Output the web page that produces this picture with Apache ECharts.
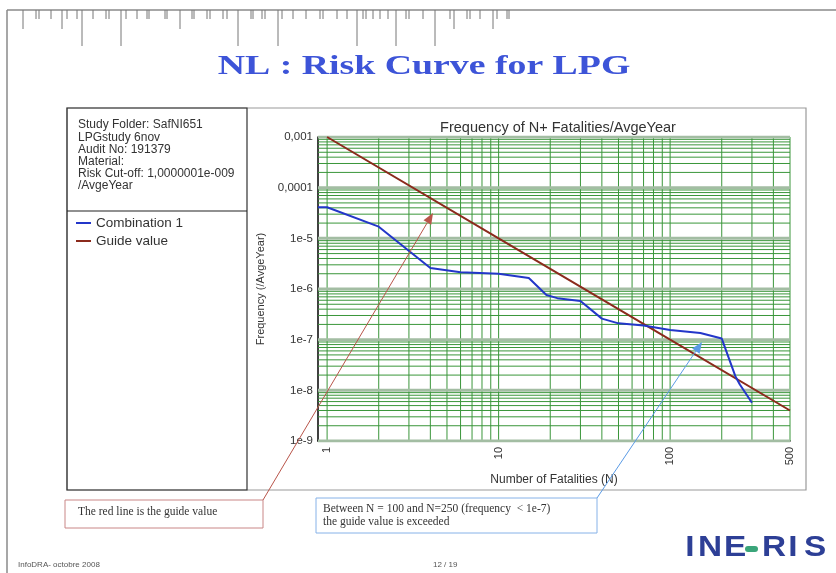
<!DOCTYPE html>
<html>
<head>
<meta charset="utf-8">
<title>NL : Risk Curve for LPG</title>
<script src="https://cdn.jsdelivr.net/npm/echarts@6/dist/echarts.min.js"></script>
<style>
html, body { margin: 0; padding: 0; background: #fff; }
#main { width: 836px; height: 573px; }
</style>
</head>
<body>
<div id="main"></div>
<script>
// values
var comboN = [0.885, 1, 2, 4, 6, 10, 15, 19, 22, 30, 40, 50, 70, 100, 150, 200, 240, 255, 300];
var comboF = [4.1e-5, 4.1e-5, 1.7e-5, 2.6e-6, 2.15e-6, 2.0e-6, 1.65e-6, 7.6e-7, 6.6e-7, 5.8e-7, 2.6e-7, 2.1e-7, 1.9e-7, 1.55e-7, 1.35e-7, 1.05e-7, 1.9e-8, 1.3e-8, 5.7e-9];
var guideN = [1, 10, 100, 500];
var guideF = [1e-3, 1e-5, 1e-7, 4e-9];

var xMin = 0.885, xMax = 500, yMin = 1e-9, yMax = 1e-3;
var xLabelValues = [1, 10, 100, 500];
var xLabelTexts = ['1', '10', '100', '500'];
var yLabelValues = [1e-3, 1e-4, 1e-5, 1e-6, 1e-7, 1e-8, 1e-9];
var yLabelTexts = ['0,001', '0,0001', '1e-5', '1e-6', '1e-7', '1e-8', '1e-9'];

var xGridValues = [1, 2, 3, 4, 5, 6, 7, 8, 9, 10, 20, 30, 40, 50, 60, 70, 80, 90, 100, 200, 300, 400, 500];
var yGridValues = [];
for (var e = -9; e <= -4; e++) {
    for (var m = 1; m <= 9; m++) yGridValues.push(m * Math.pow(10, e));
}
yGridValues.push(1e-3);

function zip(a, b) {
    return a.map(function (v, i) { return [v, b[i]]; });
}

function pickLabel(values, texts, v) {
    for (var i = 0; i < values.length; i++) {
        if (Math.abs(Math.log10(v) - Math.log10(values[i])) < 1e-4) return texts[i];
    }
    return '';
}

function isDecade(v) {
    var l = Math.log10(v);
    return Math.abs(l - Math.round(l)) < 1e-6;
}

// grid lines as broken line series (markLine misbehaves on log axes)
var gridMinor = [], gridMajor = [];
xGridValues.forEach(function (x) {
    gridMinor.push([x, yMin], [x, yMax], [x, '-']);
});
yGridValues.forEach(function (v) {
    var target = isDecade(v) ? gridMajor : gridMinor;
    target.push([xMin, v], [xMax, v], [xMax, '-']);
});

function arrow(x1, y1, x2, y2, color) {
    var dx = x2 - x1, dy = y2 - y1;
    var len = Math.sqrt(dx * dx + dy * dy);
    var ux = dx / len, uy = dy / len;
    var bx = x2 - ux * 11, by = y2 - uy * 11;
    return [
        { type: 'line', z: 50, shape: { x1: x1, y1: y1, x2: bx, y2: by }, style: { stroke: color, lineWidth: 1 } },
        { type: 'polygon', z: 50, shape: { points: [[x2, y2], [bx - uy * 4.5, by + ux * 4.5], [bx + uy * 4.5, by - ux * 4.5]] }, style: { fill: color } }
    ];
}

// top ruler
var rulerLong = [82, 121, 238, 278, 357, 396, 435];
var rulerMid = [23, 62, 180, 454, 493];
var rulerShort = [36, 39, 51, 67, 77, 93, 106, 109, 126, 137, 147, 149, 165, 167, 192, 194, 207, 210, 223, 227,
    251, 253, 262, 265, 282, 293, 306, 320, 323, 337, 347, 363, 366, 373, 380, 388, 406, 409, 423, 450, 467, 470,
    480, 497, 507, 509];
var graphics = [
    { type: 'line', shape: { x1: 7, y1: 10, x2: 836, y2: 10 }, style: { stroke: '#8a8a8a', lineWidth: 1.5 } },
    { type: 'line', shape: { x1: 7, y1: 10, x2: 7, y2: 573 }, style: { stroke: '#8a8a8a', lineWidth: 1.5 } }
];
rulerLong.forEach(function (x) {
    graphics.push({ type: 'line', shape: { x1: x, y1: 10, x2: x, y2: 46 }, style: { stroke: '#777', lineWidth: 1 } });
});
rulerMid.forEach(function (x) {
    graphics.push({ type: 'line', shape: { x1: x, y1: 10, x2: x, y2: 29 }, style: { stroke: '#777', lineWidth: 1 } });
});
rulerShort.forEach(function (x) {
    graphics.push({ type: 'line', shape: { x1: x, y1: 10, x2: x, y2: 19 }, style: { stroke: '#777', lineWidth: 1 } });
});

// slide title (the slide is stretched sideways)
graphics.push({
    type: 'text', x: 424, y: 67, scaleX: 1.4,
    style: {
        text: 'NL : Risk Curve for LPG', align: 'center', verticalAlign: 'middle',
        font: 'bold 27px "Liberation Serif", "Times New Roman", serif', fill: '#3d54d8'
    }
});

// chart frame and info panel
graphics.push(
    { type: 'rect', z: -10, shape: { x: 67, y: 108, width: 739, height: 382 }, style: { fill: '#fff', stroke: '#9a9a9a', lineWidth: 1.2 } },
    { type: 'rect', z: -9, shape: { x: 67, y: 108, width: 180, height: 382 }, style: { fill: 'none', stroke: '#333', lineWidth: 1.2 } },
    { type: 'line', shape: { x1: 67, y1: 211, x2: 247, y2: 211 }, style: { stroke: '#222', lineWidth: 1.2 } },
    {
        type: 'text', left: 78, top: 119,
        style: {
            text: 'Study Folder: SafNI651\nLPGstudy 6nov\nAudit No: 191379\nMaterial:\nRisk Cut-off: 1,0000001e-009\n/AvgeYear',
            font: '12px "Liberation Sans", Arial, sans-serif', lineHeight: 12.2, fill: '#333'
        }
    }
);

// annotation boxes
graphics.push(
    { type: 'rect', z: 40, shape: { x: 65, y: 500, width: 198, height: 28 }, style: { fill: '#fff', stroke: '#c98686', lineWidth: 1 } },
    { type: 'text', z: 41, left: 78, top: 506, style: { text: 'The red line is the guide value', font: '11.5px "Liberation Serif", "Times New Roman", serif', fill: '#333' } },
    { type: 'rect', z: 40, shape: { x: 316, y: 498, width: 281, height: 35 }, style: { fill: '#fff', stroke: '#86b2e8', lineWidth: 1 } },
    {
        type: 'text', z: 41, left: 323, top: 503,
        style: { text: 'Between N = 100 and N=250 (frequency  < 1e-7)\nthe guide value is exceeded', font: '11.5px "Liberation Serif", "Times New Roman", serif', lineHeight: 12.5, fill: '#333' }
    }
);
graphics = graphics.concat(arrow(263, 500, 433, 213, '#b9554a'));
graphics = graphics.concat(arrow(597, 498, 702, 342, '#5a9be6'));

// footer
graphics.push(
    { type: 'text', left: 18, top: 561, style: { text: 'InfoDRA- octobre 2008', font: '8px "Liberation Sans", Arial, sans-serif', fill: '#555' } },
    { type: 'text', left: 433, top: 561, style: { text: '12 / 19', font: '8px "Liberation Sans", Arial, sans-serif', fill: '#555' } }
);
var logoLetters = [['I', 690], ['N', 710], ['E', 735], ['R', 774], ['I', 793], ['S', 815]];
logoLetters.forEach(function (l) {
    graphics.push({
        type: 'text', x: l[1], y: 548, scaleX: 1.15,
        style: { text: l[0], font: 'bold 29px "Liberation Sans", Arial, sans-serif', fill: '#2d3f96', align: 'center', verticalAlign: 'middle' }
    });
});
graphics.push({ type: 'rect', shape: { x: 745, y: 546, width: 13, height: 6, r: 3 }, style: { fill: '#3aa57a' } });

var chart = echarts.init(document.getElementById('main'));
var option = {
    animation: false,
    backgroundColor: '#fff',
    title: {
        text: 'Frequency of N+ Fatalities/AvgeYear', left: 553, top: 115, textAlign: 'center',
        textStyle: { fontFamily: '"Liberation Sans", Arial, sans-serif', fontWeight: 'normal', fontSize: 14.5, color: '#333' }
    },
    legend: {
        orient: 'vertical', left: 76, top: 216, itemGap: 4, padding: 0,
        icon: 'rect', itemWidth: 15, itemHeight: 2,
        data: ['Combination 1', 'Guide value'],
        textStyle: { fontFamily: '"Liberation Sans", Arial, sans-serif', fontSize: 13.5, lineHeight: 14, color: '#333' }
    },
    grid: { left: 318, top: 137, width: 472, height: 304, containLabel: false },
    xAxis: {
        type: 'log', min: xMin, max: xMax,
        name: 'Number of Fatalities (N)', nameLocation: 'middle', nameGap: 30,
        nameTextStyle: { fontFamily: '"Liberation Sans", Arial, sans-serif', fontSize: 12, color: '#333' },
        axisLine: { show: true, lineStyle: { color: '#000', width: 1.5 } },
        axisTick: { show: false },
        splitLine: { show: false },
        axisLabel: {
            rotate: 90, margin: 6, showMinLabel: true, showMaxLabel: true,
            fontFamily: '"Liberation Sans", Arial, sans-serif', fontSize: 11, color: '#333',
            formatter: function (v) { return pickLabel(xLabelValues, xLabelTexts, v); }
        }
    },
    yAxis: {
        type: 'log', min: yMin, max: yMax,
        name: 'Frequency (/AvgeYear)', nameLocation: 'middle', nameGap: 50, nameRotate: 90,
        nameTextStyle: { fontFamily: '"Liberation Sans", Arial, sans-serif', fontSize: 11, color: '#333' },
        axisLine: { show: true, lineStyle: { color: '#000', width: 1.5 } },
        axisTick: { show: false },
        splitLine: { show: false },
        axisLabel: {
            margin: 5, fontFamily: '"Liberation Sans", Arial, sans-serif', fontSize: 11.5, color: '#333',
            formatter: function (v) { return pickLabel(yLabelValues, yLabelTexts, v); }
        }
    },
    series: [
        {
            name: 'gridMinor', type: 'line', data: gridMinor, symbol: 'none', silent: true, z: 1,
            connectNulls: false, lineStyle: { width: 1, color: '#3a963a' }
        },
        {
            name: 'gridMajor', type: 'line', data: gridMajor, symbol: 'none', silent: true, z: 2,
            connectNulls: false, lineStyle: { width: 3, color: '#a3bda3' }
        },
        {
            name: 'Guide value', type: 'line', data: zip(guideN, guideF), symbol: 'none', z: 5,
            color: '#8b2a1c', lineStyle: { width: 2, color: '#8b2a1c' }
        },
        {
            name: 'Combination 1', type: 'line', data: zip(comboN, comboF), symbol: 'none', z: 6,
            color: '#2336c9', lineStyle: { width: 2, color: '#2336c9' }
        }
    ],
    graphic: graphics
};
chart.setOption(option);
</script>
</body>
</html>
